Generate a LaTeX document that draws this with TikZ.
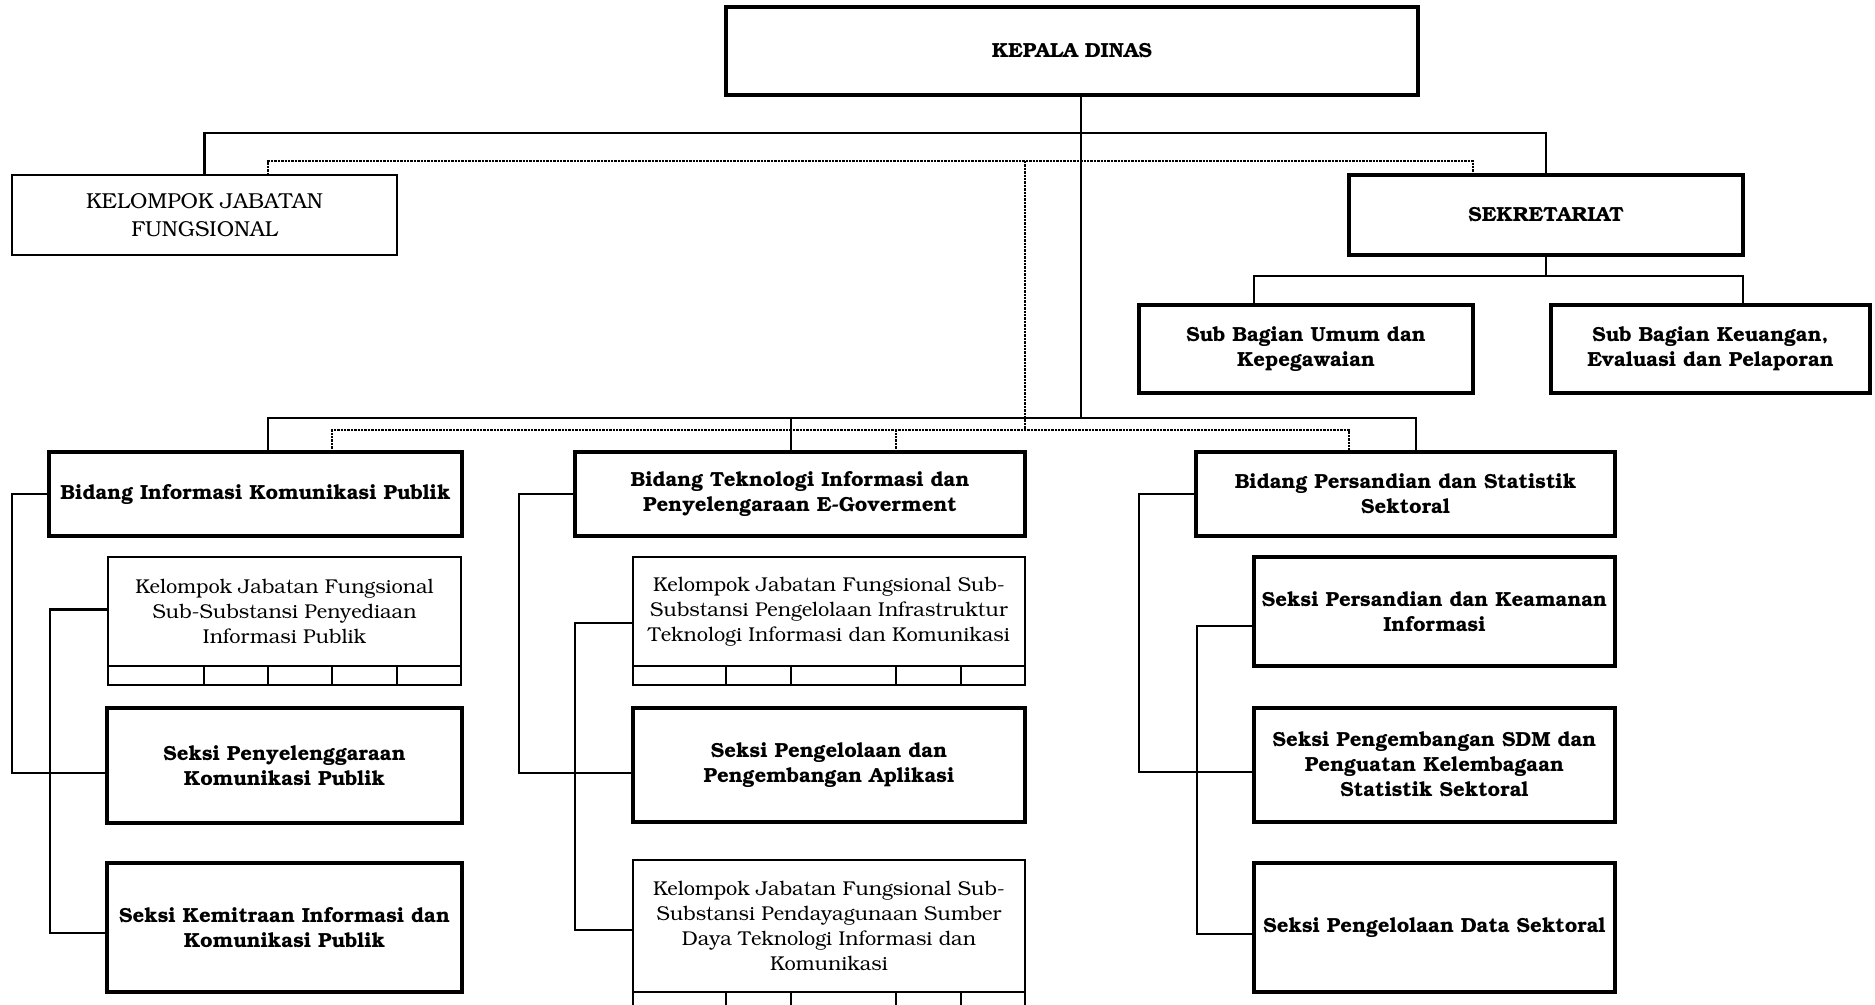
\documentclass[tikz,border=0pt]{standalone}
\usepackage[T1]{fontenc}
\usepackage{bookman}
\usetikzlibrary{positioning,calc}

\begin{document}
\begin{tikzpicture}[x=0.5pt, y=-0.5pt,
	unitbox/.style = {draw, line width=2.2pt, align=center, inner sep=1pt, outer sep=0pt, font=\fontsize{10.2}{12.5}\selectfont\bfseries},
	kjfbox/.style = {draw, line width=1.3pt, align=center, inner sep=1pt, outer sep=0pt, font=\fontsize{10}{12.5}\selectfont},
	kjfbar/.style = {draw, line width=1.3pt, inner sep=0pt, outer sep=0pt, minimum height=9.5pt},
	link/.style = {line width=1.3pt},
	dotline/.style = {line width=1.2pt, dash pattern=on 1.2pt off 0.5pt}]
	\clip (0,0) rectangle (1875,1005);

	\node[unitbox, minimum width=346pt, minimum height=44pt] (kepala) at (1072,51) {KEPALA DINAS};
	\node[kjfbox, minimum width=192.5pt, minimum height=40pt, font=\fontsize{10.8}{14.3}\selectfont] (kjf) at (204.5,215) {KELOMPOK JABATAN\\FUNGSIONAL};
	\node[unitbox, minimum width=197pt, minimum height=40pt] (sekre) at (1546,215) {SEKRETARIAT};
	\node[unitbox, minimum width=167pt, minimum height=44pt] (subumum) at (1306,349) {Sub Bagian Umum dan\\Kepegawaian};
	\node[unitbox, minimum width=159.5pt, minimum height=44pt] (subkeu) at (1710.5,349) {Sub Bagian Keuangan,\\Evaluasi dan Pelaporan};

	\node[unitbox, minimum width=206.5pt, minimum height=42pt] (bidikp) at (255.5,494) {Bidang Informasi Komunikasi Publik};
	\node[unitbox, minimum width=225pt, minimum height=42pt] (bidti) at (800,494) {Bidang Teknologi Informasi dan\\Penyelengaraan E-Goverment};
	\node[unitbox, minimum width=209.5pt, minimum height=42pt] (bidps) at (1405.5,494) {Bidang Persandian dan Statistik\\Sektoral};

	\node[kjfbox, minimum width=176.5pt, minimum height=54.5pt] (kjfikp) at (284.5,611.5) {Kelompok Jabatan Fungsional\\Sub-Substansi Penyediaan\\Informasi Publik};
	\node[kjfbar, minimum width=176.5pt, below=0pt of kjfikp] (kjfikpbar) {};
	\node[unitbox, minimum width=177.5pt, minimum height=57.5pt] (seksipeny) at (284.5,765.5) {Seksi Penyelenggaraan\\Komunikasi Publik};
	\node[unitbox, minimum width=177.5pt, minimum height=64.5pt] (seksimitra) at (284.5,927.5) {Seksi Kemitraan Informasi dan\\Komunikasi Publik};

	\node[kjfbox, minimum width=196pt, minimum height=54.5pt] (kjfinfra) at (829,611.5) {Kelompok Jabatan Fungsional Sub-\\Substansi Pengelolaan Infrastruktur\\Teknologi Informasi dan Komunikasi};
	\node[kjfbar, minimum width=196pt, below=0pt of kjfinfra] (kjfinfrabar) {};
	\node[unitbox, minimum width=196pt, minimum height=57pt] (seksiapl) at (829,765) {Seksi Pengelolaan dan\\Pengembangan Aplikasi};
	\node[kjfbox, minimum width=196pt, minimum height=66pt] (kjfsdti) at (829,926) {Kelompok Jabatan Fungsional Sub-\\Substansi Pendayagunaan Sumber\\Daya Teknologi Informasi dan\\Komunikasi};
	\node[kjfbar, minimum width=196pt, below=0pt of kjfsdti] (kjfsdtibar) {};

	\node[unitbox, minimum width=180.5pt, minimum height=54.5pt] (seksisandi) at (1434.5,611.5) {Seksi Persandian dan Keamanan\\Informasi};
	\node[unitbox, minimum width=180.5pt, minimum height=57pt] (seksisdm) at (1434.5,765) {Seksi Pengembangan SDM dan\\Penguatan Kelembagaan\\Statistik Sektoral};
	\node[unitbox, minimum width=180.5pt, minimum height=64.5pt] (seksidata) at (1434.5,927.5) {Seksi Pengelolaan Data Sektoral};

	\foreach \d in {96,160,224,289}
		\draw[link] ([xshift=\d*0.5pt]kjfikpbar.south west) -- ([xshift=\d*0.5pt]kjfikpbar.north west);
	\foreach \d in {93,158,263,328} {
		\draw[link] ([xshift=\d*0.5pt]kjfinfrabar.south west) -- ([xshift=\d*0.5pt]kjfinfrabar.north west);
		\draw[link] ([xshift=\d*0.5pt]kjfsdtibar.south west) -- ([xshift=\d*0.5pt]kjfsdtibar.north west);
	}

	\coordinate (topbus) at (0,133);
	\coordinate (dotbus) at (0,161);
	\coordinate (subbus) at (0,276);
	\coordinate (midbus) at (0,418);
	\coordinate (middots) at (0,430);
	\coordinate (trunk) at ($(kepala.south)+(9,0)$);
	\coordinate (dottrunk) at (1025,161);
	\coordinate (kjfdot) at ($(kjf.north)+(63.5,0)$);
	\coordinate (sekdot) at ($(sekre.north)+(-73,0)$);
	\coordinate (umumline) at ($(subumum.north)+(-52,0)$);
	\coordinate (keuline) at ($(subkeu.north)+(32.5,0)$);
	\coordinate (ikpline) at ($(bidikp.north)+(12.5,0)$);
	\coordinate (tiline) at ($(bidti.north)+(-9,0)$);
	\coordinate (psline) at ($(bidps.north)+(10.5,0)$);
	\coordinate (ikpdot) at ($(bidikp.north)+(76.5,0)$);
	\coordinate (tidot) at ($(bidti.north)+(96,0)$);
	\coordinate (psdot) at ($(bidps.north)+(-56.5,0)$);

	\draw[link] (kjf.north) |- (sekre.north |- topbus) -- (sekre.north);
	\draw[link] (trunk) -- (trunk |- midbus);
	\draw[dotline] (kjfdot) |- (sekdot |- dotbus) -- (sekdot);
	\draw[dotline] (dottrunk) -- (dottrunk |- middots);
	\draw[link] (sekre.south) -- (sekre.south |- subbus);
	\draw[link] (umumline) |- (keuline |- subbus) -- (keuline);
	\draw[link] (ikpline) |- (psline |- midbus) -- (psline);
	\draw[link] (tiline) -- (tiline |- midbus);
	\draw[dotline] (ikpdot) |- (psdot |- middots) -- (psdot);
	\draw[dotline] (tidot) -- (tidot |- middots);

	\draw[link] (bidikp.west) -- ++(-37,0) |- ($(seksipeny.west)+(0,7.5)$);
	\draw[link] ($(kjfikp.west)+(0,-2)$) -- ++(-58,0) |- ($(seksimitra.west)+(0,5.5)$);
	\draw[link] (bidti.west) -- ++(-56,0) |- ($(seksiapl.west)+(0,8)$);
	\draw[link] ($(kjfinfra.west)+(0,11.5)$) -- ++(-58,0) |- ($(kjfsdti.west)+(0,4)$);
	\draw[link] (bidps.west) -- ++(-57,0) |- ($(seksisdm.west)+(0,7)$);
	\draw[link] ($(seksisandi.west)+(0,14.5)$) -- ++(-57,0) |- ($(seksidata.west)+(0,6.5)$);
\end{tikzpicture}
\end{document}
